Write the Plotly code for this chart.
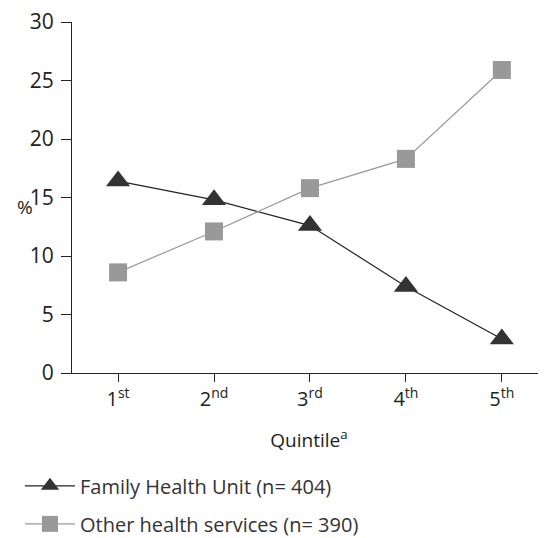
import plotly.graph_objects as go

quintiles = ["1<sup>st</sup>", "2<sup>nd</sup>", "3<sup>rd</sup>", "4<sup>th</sup>", "5<sup>th</sup>"]
fhu_values = [16.4, 14.8, 12.6, 7.4, 2.9]
other_values = [8.6, 12.1, 15.8, 18.3, 25.9]
y_ticks = [0, 5, 10, 15, 20, 25, 30]

FONT = "'Open Sans', 'Noto Sans', sans-serif"
xs = list(range(len(quintiles)))

fig = go.Figure()
fig.add_trace(go.Scatter(
    x=xs, y=fhu_values, mode="lines+markers", name="Family Health Unit (n= 404)",
    legendgroup="a",
    line=dict(color="#222222", width=1.2),
    marker=dict(symbol="triangle-up", size=21, color="#333333"),
))
fig.add_trace(go.Scatter(
    x=xs, y=other_values, mode="lines+markers", name="Other health services (n= 390)",
    legendgroup="b",
    line=dict(color="#999999", width=1.2),
    marker=dict(symbol="square", size=18, color="#999999"),
))

# the page body keeps its default 8px margin, so the figure is 8px smaller and offset
fig.update_layout(
    width=538, height=530,
    margin=dict(l=64, r=0, t=14, b=165, autoexpand=False),
    plot_bgcolor="white", paper_bgcolor="white",
    font=dict(family=FONT, size=19, color="#222222"),
    showlegend=True,
    legend=dict(x=-0.1097, y=-0.266, xanchor="left", yanchor="top",
                font=dict(size=20, color="#333333"), tracegroupgap=9,
                itemwidth=50, bgcolor="rgba(0,0,0,0)"),
    xaxis=dict(
        range=[-0.48, 4.46], tickmode="array", tickvals=xs, ticktext=quintiles,
        showgrid=False, zeroline=False, showline=True, linecolor="#222222", linewidth=1.2,
        ticks="outside", ticklen=8, tickcolor="#222222", automargin=False,
        tickfont=dict(size=20), ticklabelstandoff=0, ticklabeloverflow="allow",
        title=dict(text="Quintile<sup>a</sup>", font=dict(size=19), standoff=22),
    ),
    yaxis=dict(
        range=[0, 30], tickmode="array", tickvals=y_ticks,
        showgrid=False, zeroline=False, showline=True, linecolor="#222222", linewidth=1.2,
        ticks="outside", ticklen=10, tickcolor="#222222", automargin=False,
        tickfont=dict(size=21), ticklabelstandoff=3, ticklabeloverflow="allow",
    ),
)
fig.add_annotation(text="%", xref="paper", yref="y", x=-0.1, y=14.2,
                   showarrow=False, font=dict(size=19), xanchor="center", yanchor="middle")

fig.write_html("out.html")
